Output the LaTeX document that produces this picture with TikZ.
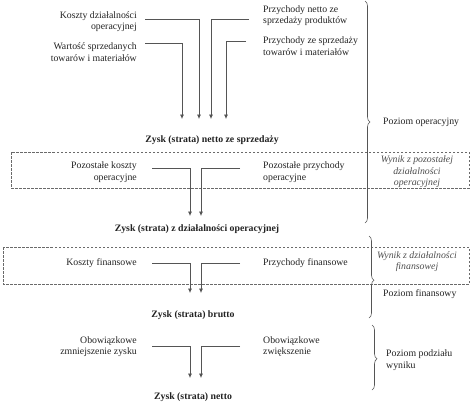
\documentclass[tikz,border=0pt]{standalone}
\usepackage{fontspec}
\setmainfont{Liberation Serif}
\usetikzlibrary{arrows.meta,decorations.pathreplacing}
\definecolor{linegray}{HTML}{555555}
\definecolor{boxgray}{HTML}{6A6A6A}
\definecolor{txt}{HTML}{222222}
\begin{document}
\begin{tikzpicture}[x=1pt,y=-1pt,
  lbl/.style={inner sep=0pt,font=\fontsize{9.8}{11.5}\selectfont,text=txt},
  lblr/.style={lbl,anchor=east,align=right},
  lbll/.style={lbl,anchor=west,align=left},
  res/.style={inner sep=0pt,font=\fontsize{9.8}{11.5}\selectfont\bfseries,text=txt},
  ital/.style={inner sep=0pt,font=\fontsize{9.8}{11.5}\selectfont\itshape,text=txt!80,align=center},
  conn/.style={draw=linegray,line width=0.7pt,-{Latex[length=4.5pt,width=4pt]}},
  dbox/.style={draw=boxgray,line width=0.6pt,dash pattern=on 2.5pt off 1.5pt},
  brc/.style={draw=linegray,line width=0.6pt,decorate,decoration={brace,amplitude=5pt,#1}}
]
\useasboundingbox (0,0) rectangle (474,402);

% dashed boxes
\draw[dbox] (11,152) rectangle (469,188);
\draw[dbox] (3,247) rectangle (469,284);

% --- top group
\node[lblr] (k1) at (137,21.5) {Koszty działalności\\operacyjnej};
\node[lblr] (w1) at (137,52) {Wartość sprzedanych\\towarów i materiałów};
\node[lbll] (p1) at (263,15.5) {Przychody netto ze\\sprzedaży produktów};
\node[lbll] (p2) at (263,46) {Przychody ze sprzedaży\\towarów i materiałów};
\node[res] (z1) at (212,140) {Zysk (strata) netto ze sprzedaży};

\coordinate (s1) at (145,19);
\coordinate (s2) at (145,43);
\coordinate (s3) at (249,19);
\coordinate (s4) at (246,41);
\coordinate (e1) at (199,119);
\coordinate (e2) at (182,119);
\coordinate (e3) at (211,119);
\coordinate (e4) at (226,119);
\draw[conn] (s1) -| (e1);
\draw[conn] (s2) -| (e2);
\draw[conn] (s3) -| (e3);
\draw[conn] (s4) -| (e4);

% --- other operating
\node[lblr] (pk) at (137,172) {Pozostałe koszty\\operacyjne};
\node[lbll] (pp) at (263,172) {Pozostałe przychody\\operacyjne};
\node[ital] (wy1) at (417,172) {Wynik z pozostałej\\działalności\\operacyjnej};
\node[res] (z2) at (197,229) {Zysk (strata) z działalności operacyjnej};
\coordinate (s5) at (152,168);
\coordinate (s6) at (240,168);
\coordinate (e5) at (190,216);
\coordinate (e6) at (201,216);
\draw[conn] (s5) -| (e5);
\draw[conn] (s6) -| (e6);

% --- financial
\node[lblr] (kf) at (137,263) {Koszty finansowe};
\node[lbll] (pf) at (263,263) {Przychody finansowe};
\node[ital] (wy2) at (417,261.5) {Wynik z działalności\\finansowej};
\node[res] (z3) at (193,315) {Zysk (strata) brutto};
\coordinate (s7) at (152,263);
\coordinate (s8) at (240,263);
\coordinate (e7) at (190,293);
\coordinate (e8) at (201,293);
\draw[conn] (s7) -| (e7);
\draw[conn] (s8) -| (e8);

% --- distribution
\node[lblr] (ob1) at (137,346.5) {Obowiązkowe\\zmniejszenie zysku};
\node[lbll] (ob2) at (263,346.5) {Obowiązkowe\\zwiększenie};
\node[res] (z4) at (193,397) {Zysk (strata) netto};
\coordinate (s9) at (152,346);
\coordinate (s10) at (240,346);
\coordinate (e9) at (190,378);
\coordinate (e10) at (201,378);
\draw[conn] (s9) -| (e9);
\draw[conn] (s10) -| (e10);

% --- braces
\coordinate (b1a) at (365,1);
\coordinate (b1b) at (365,223);
\coordinate (b2a) at (369,236);
\coordinate (b2b) at (369,318);
\coordinate (b3a) at (372,325);
\coordinate (b3b) at (372,390);
\draw[brc={aspect=0.545}] (b1a) -- (b1b);
\draw[brc={aspect=0.54}] (b2a) -- (b2b);
\draw[brc={aspect=0.52}] (b3a) -- (b3b);
\node[lbll] (po1) at (383,122) {Poziom operacyjny};
\node[lbll] (po2) at (383,294) {Poziom finansowy};
\node[lbll] (po3) at (386,360) {Poziom podziału\\wyniku};
\end{tikzpicture}
\end{document}
